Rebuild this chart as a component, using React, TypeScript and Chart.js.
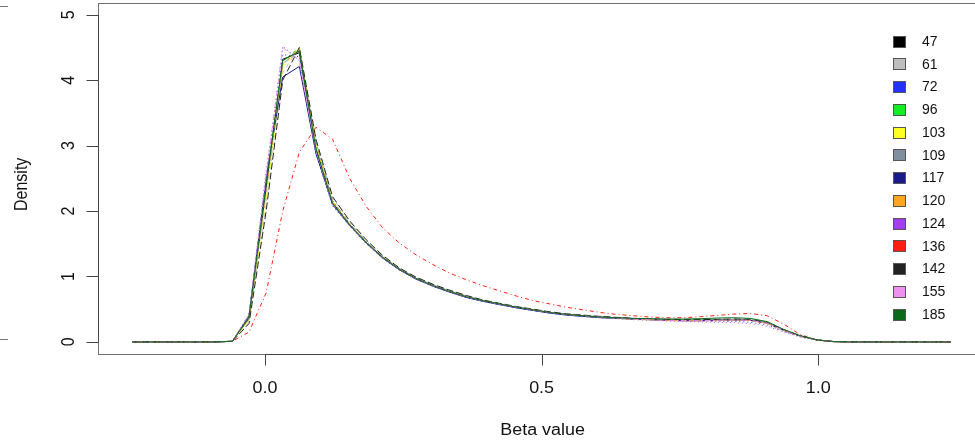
import React, { useEffect, useRef } from "react";
import { Chart, registerables } from "chart.js";

Chart.register(...registerables);

// ---------------- data ----------------
const betaX = [
  -0.240, -0.210, -0.180, -0.149, -0.119, -0.089, -0.059, -0.029, 0.002, 0.032,
  0.062, 0.092, 0.122, 0.153, 0.183, 0.213, 0.243, 0.273, 0.304, 0.334,
  0.364, 0.394, 0.424, 0.455, 0.485, 0.515, 0.545, 0.575, 0.606, 0.636,
  0.666, 0.696, 0.726, 0.757, 0.787, 0.817, 0.847, 0.877, 0.908, 0.938,
  0.968, 0.998, 1.028, 1.058, 1.089, 1.119, 1.149, 1.179, 1.209, 1.240,
];

const sampleNames = ["47", "61", "72", "96", "103", "109", "117", "120", "124", "136", "142", "155", "185"];

const seriesColors = [
  "#000000", "#BEBEBE", "#2233FF", "#11EE22", "#FFFF22", "#8090A0", "#1A1A8A",
  "#FFA520", "#A23DF0", "#FF2010", "#222222", "#EE90EE", "#0A6A1A",
];

const seriesLty = [
  "solid", "dashed", "dotted", "dotdash", "longdash", "twodash", "solid",
  "dashed", "dotted", "dotdash", "longdash", "twodash", "solid",
];

const s47 = [0, 0, 0, 0, 0, 0,
  0.01, 0.36, 2.35, 4.32, 4.42, 2.97, 2.13, 1.80, 1.52, 1.29, 1.11, 0.97, 0.86, 0.77,
  0.69, 0.63, 0.58, 0.53, 0.49, 0.45, 0.42, 0.40, 0.38, 0.37, 0.355, 0.345, 0.335, 0.33,
  0.33, 0.335, 0.34, 0.33, 0.29, 0.18, 0.09, 0.03, 0.005,
  0, 0, 0, 0, 0, 0, 0];
const s61 = [0, 0, 0, 0, 0, 0,
  0.01, 0.30, 2.10, 4.12, 4.50, 3.10, 2.20, 1.84, 1.55, 1.31, 1.12, 0.98, 0.87, 0.78,
  0.70, 0.63, 0.58, 0.53, 0.49, 0.45, 0.42, 0.40, 0.38, 0.365, 0.35, 0.34, 0.33, 0.325,
  0.325, 0.33, 0.335, 0.33, 0.285, 0.18, 0.09, 0.03, 0.005,
  0, 0, 0, 0, 0, 0, 0];
const s72 = [0, 0, 0, 0, 0, 0,
  0.01, 0.42, 2.60, 4.39, 4.36, 2.88, 2.08, 1.77, 1.50, 1.27, 1.10, 0.96, 0.85, 0.76,
  0.68, 0.62, 0.57, 0.52, 0.48, 0.44, 0.41, 0.39, 0.37, 0.36, 0.345, 0.335, 0.325, 0.32,
  0.315, 0.315, 0.315, 0.30, 0.26, 0.16, 0.08, 0.025, 0.004,
  0, 0, 0, 0, 0, 0, 0];
const s96 = [0, 0, 0, 0, 0, 0,
  0.01, 0.40, 2.45, 4.29, 4.50, 2.98, 2.12, 1.79, 1.52, 1.29, 1.11, 0.97, 0.86, 0.77,
  0.69, 0.63, 0.58, 0.53, 0.49, 0.45, 0.42, 0.40, 0.38, 0.37, 0.355, 0.345, 0.34, 0.335,
  0.335, 0.34, 0.345, 0.34, 0.295, 0.18, 0.09, 0.03, 0.005,
  0, 0, 0, 0, 0, 0, 0];
const s103 = [0, 0, 0, 0, 0, 0,
  0.01, 0.33, 2.20, 4.20, 4.48, 3.02, 2.15, 1.81, 1.53, 1.30, 1.12, 0.97, 0.86, 0.77,
  0.69, 0.63, 0.58, 0.53, 0.49, 0.45, 0.42, 0.395, 0.375, 0.36, 0.345, 0.335, 0.325, 0.32,
  0.32, 0.325, 0.33, 0.325, 0.28, 0.17, 0.085, 0.028, 0.005,
  0, 0, 0, 0, 0, 0, 0];
const s109 = [0, 0, 0, 0, 0, 0,
  0.01, 0.35, 2.30, 4.25, 4.45, 3.05, 2.16, 1.81, 1.53, 1.30, 1.12, 0.98, 0.87, 0.78,
  0.70, 0.64, 0.58, 0.53, 0.49, 0.45, 0.42, 0.40, 0.38, 0.37, 0.355, 0.345, 0.335, 0.33,
  0.33, 0.335, 0.34, 0.335, 0.29, 0.18, 0.09, 0.03, 0.005,
  0, 0, 0, 0, 0, 0, 0];
const s117 = [0, 0, 0, 0, 0, 0,
  0.01, 0.40, 2.50, 4.05, 4.21, 2.88, 2.10, 1.78, 1.51, 1.28, 1.10, 0.96, 0.85, 0.76,
  0.68, 0.62, 0.57, 0.52, 0.48, 0.44, 0.41, 0.39, 0.37, 0.36, 0.35, 0.34, 0.33, 0.325,
  0.325, 0.33, 0.335, 0.33, 0.285, 0.175, 0.088, 0.03, 0.005,
  0, 0, 0, 0, 0, 0, 0];
const s120 = [0, 0, 0, 0, 0, 0,
  0.01, 0.37, 2.35, 4.25, 4.50, 3.00, 2.14, 1.80, 1.52, 1.29, 1.11, 0.97, 0.86, 0.77,
  0.69, 0.63, 0.58, 0.53, 0.49, 0.45, 0.42, 0.40, 0.38, 0.365, 0.35, 0.34, 0.33, 0.325,
  0.325, 0.33, 0.335, 0.33, 0.285, 0.175, 0.088, 0.03, 0.005,
  0, 0, 0, 0, 0, 0, 0];
const s124 = [0, 0, 0, 0, 0, 0,
  0.01, 0.40, 2.50, 4.52, 4.30, 2.92, 2.10, 1.78, 1.51, 1.28, 1.10, 0.96, 0.85, 0.76,
  0.68, 0.62, 0.57, 0.52, 0.48, 0.44, 0.41, 0.39, 0.37, 0.355, 0.34, 0.33, 0.32, 0.31,
  0.305, 0.30, 0.295, 0.28, 0.24, 0.15, 0.075, 0.024, 0.004,
  0, 0, 0, 0, 0, 0, 0];
const s136 = [0, 0, 0, 0, 0, 0,
  0.01, 0.15, 0.75, 2.00, 2.90, 3.28, 3.10, 2.50, 2.07, 1.74, 1.51, 1.33, 1.18, 1.05,
  0.95, 0.86, 0.78, 0.70, 0.63, 0.58, 0.53, 0.49, 0.45, 0.42, 0.40, 0.38, 0.37, 0.37,
  0.385, 0.405, 0.425, 0.435, 0.40, 0.27, 0.11, 0.03, 0.005,
  0, 0, 0, 0, 0, 0, 0];
const s142 = [0, 0, 0, 0, 0, 0,
  0.01, 0.28, 2.00, 4.00, 4.50, 3.10, 2.22, 1.85, 1.56, 1.32, 1.13, 0.99, 0.88, 0.79,
  0.71, 0.64, 0.59, 0.54, 0.50, 0.46, 0.43, 0.41, 0.39, 0.375, 0.36, 0.35, 0.345, 0.34,
  0.34, 0.345, 0.35, 0.345, 0.30, 0.185, 0.092, 0.03, 0.005,
  0, 0, 0, 0, 0, 0, 0];
const s155 = [0, 0, 0, 0, 0, 0,
  0.01, 0.42, 2.55, 4.50, 4.30, 2.93, 2.11, 1.79, 1.52, 1.29, 1.11, 0.97, 0.86, 0.77,
  0.69, 0.63, 0.58, 0.53, 0.49, 0.45, 0.42, 0.40, 0.38, 0.365, 0.35, 0.34, 0.33, 0.325,
  0.325, 0.33, 0.335, 0.33, 0.285, 0.175, 0.088, 0.03, 0.005,
  0, 0, 0, 0, 0, 0, 0];
const s185 = [0, 0, 0, 0, 0, 0,
  0.01, 0.38, 2.40, 4.30, 4.45, 2.95, 2.12, 1.79, 1.52, 1.29, 1.11, 0.97, 0.86, 0.77,
  0.69, 0.63, 0.58, 0.53, 0.49, 0.45, 0.42, 0.40, 0.38, 0.37, 0.36, 0.355, 0.35, 0.35,
  0.355, 0.365, 0.37, 0.36, 0.31, 0.19, 0.095, 0.03, 0.005,
  0, 0, 0, 0, 0, 0, 0];

const seriesValues = [s47, s61, s72, s96, s103, s109, s117, s120, s124, s136, s142, s155, s185];

const xTicks = [0, 0.5, 1.0];
const xTickLabels = ["0.0", "0.5", "1.0"];
const yTicks = [0, 1, 2, 3, 4, 5];
const yTickLabels = ["0", "1", "2", "3", "4", "5"];
const xTitle = "Beta value";
const yTitle = "Density";

// ---------------- layout / style ----------------
const CANVAS_W = 1000;
const CANVAS_H = 441;
const FONT = '"Liberation Sans", Arial, Helvetica, sans-serif';
const TEXT_SX = 1.12;

const dashMap: Record<string, number[]> = {
  solid: [],
  dashed: [4, 4],
  dotted: [1, 3],
  dotdash: [1, 3, 4, 3],
  longdash: [7, 3],
  twodash: [2, 2, 6, 2],
};

function drawText(ctx: CanvasRenderingContext2D, text: string, cx: number, cy: number, rotate: boolean, size: number) {
  ctx.save();
  ctx.translate(cx, cy);
  ctx.scale(TEXT_SX, 1);
  if (rotate) ctx.rotate(-Math.PI / 2);
  ctx.font = `${size}px ${FONT}`;
  ctx.textAlign = "center";
  ctx.textBaseline = "middle";
  ctx.fillStyle = "#111";
  ctx.fillText(text, 0, 0);
  ctx.restore();
}

const rPlotPlugin = {
  id: "rPlot",
  afterDraw(chart: any) {
    const { ctx, chartArea: a, scales } = chart;
    const xs = scales.x;
    const ys = scales.y;
    ctx.save();
    ctx.setLineDash([]);

    // neighbouring-panel remnants at the far left edge
    ctx.strokeStyle = "#777";
    ctx.lineWidth = 1;
    ctx.beginPath();
    ctx.moveTo(0, 6.5);
    ctx.lineTo(8, 6.5);
    ctx.moveTo(0, 339.5);
    ctx.lineTo(8, 339.5);
    ctx.stroke();

    // plot box
    ctx.strokeStyle = "#707070";
    ctx.lineWidth = 1;
    ctx.strokeRect(Math.round(a.left) + 0.5, Math.round(a.top) + 0.5,
      Math.round(a.right - a.left), Math.round(a.bottom - a.top) - 1);

    // x axis
    const by = Math.round(a.bottom) - 0.5;
    ctx.strokeStyle = "#444";
    ctx.beginPath();
    ctx.moveTo(xs.getPixelForValue(xTicks[0]), by);
    ctx.lineTo(xs.getPixelForValue(xTicks[xTicks.length - 1]), by);
    xTicks.forEach((t) => {
      const px = Math.round(xs.getPixelForValue(t)) + 0.5;
      ctx.moveTo(px, by);
      ctx.lineTo(px, by + 11);
    });
    ctx.stroke();
    xTicks.forEach((t, i) => {
      drawText(ctx, xTickLabels[i], xs.getPixelForValue(t), 389, false, 16);
    });
    drawText(ctx, xTitle, (xs.getPixelForValue(0) + xs.getPixelForValue(1)) / 2 + 1, 431, false, 16);

    // y axis
    const lx = Math.round(a.left) + 0.5;
    ctx.beginPath();
    ctx.moveTo(lx, ys.getPixelForValue(yTicks[0]));
    ctx.lineTo(lx, ys.getPixelForValue(yTicks[yTicks.length - 1]));
    yTicks.forEach((t) => {
      const py = Math.round(ys.getPixelForValue(t)) + 0.5;
      ctx.moveTo(lx, py);
      ctx.lineTo(lx - 12, py);
    });
    ctx.stroke();
    yTicks.forEach((t, i) => {
      drawText(ctx, yTickLabels[i], 69, ys.getPixelForValue(t), true, 16);
    });
    drawText(ctx, yTitle, 22, (ys.getPixelForValue(0) + ys.getPixelForValue(5)) / 2 + 6, true, 16);

    // legend
    const ds = chart.data.datasets;
    ds.forEach((d: any, i: number) => {
      const cy = 41.5 + i * 22.75;
      ctx.fillStyle = d.borderColor;
      ctx.fillRect(893, Math.round(cy - 6), 13, 12);
      ctx.strokeStyle = "#555";
      ctx.lineWidth = 1;
      ctx.strokeRect(893.5, Math.round(cy - 6) + 0.5, 12, 11);
      ctx.font = `14px ${FONT}`;
      ctx.fillStyle = "#111";
      ctx.textAlign = "left";
      ctx.textBaseline = "middle";
      ctx.fillText(d.label, 922, cy + 0.5);
    });

    ctx.restore();
  },
};

export default function App() {
  const canvasRef = useRef<HTMLCanvasElement | null>(null);

  useEffect(() => {
    if (!canvasRef.current) return;
    const datasets = seriesValues.map((vals, si) => ({
      label: sampleNames[si],
      data: betaX.map((x, i) => ({ x, y: vals[i] })),
      borderColor: seriesColors[si],
      backgroundColor: seriesColors[si],
      borderWidth: 1,
      borderDash: dashMap[seriesLty[si]],
      pointRadius: 0,
      tension: 0,
      fill: false,
      order: seriesValues.length - si,
    }));

    const chart = new Chart(canvasRef.current, {
      type: "line",
      data: { datasets },
      options: {
        animation: false,
        responsive: false,
        devicePixelRatio: 1,
        layout: {
          padding: { left: 98, top: 3, right: CANVAS_W - 983, bottom: CANVAS_H - 355 },
        },
        scales: {
          x: { type: "linear", min: -0.302, max: 1.298, display: false },
          y: { type: "linear", min: -0.2, max: 5.18, display: false },
        },
        plugins: {
          legend: { display: false },
          tooltip: { enabled: false },
        },
        events: [],
      },
      plugins: [rPlotPlugin],
    } as any);

    return () => chart.destroy();
  }, []);

  return (
    <div style={{ position: "fixed", left: 0, top: 0, width: 975, height: 441, overflow: "hidden", background: "#fff" }}>
      <canvas
        ref={canvasRef}
        width={CANVAS_W}
        height={CANVAS_H}
        style={{ display: "block", width: CANVAS_W, height: CANVAS_H }}
      />
    </div>
  );
}
